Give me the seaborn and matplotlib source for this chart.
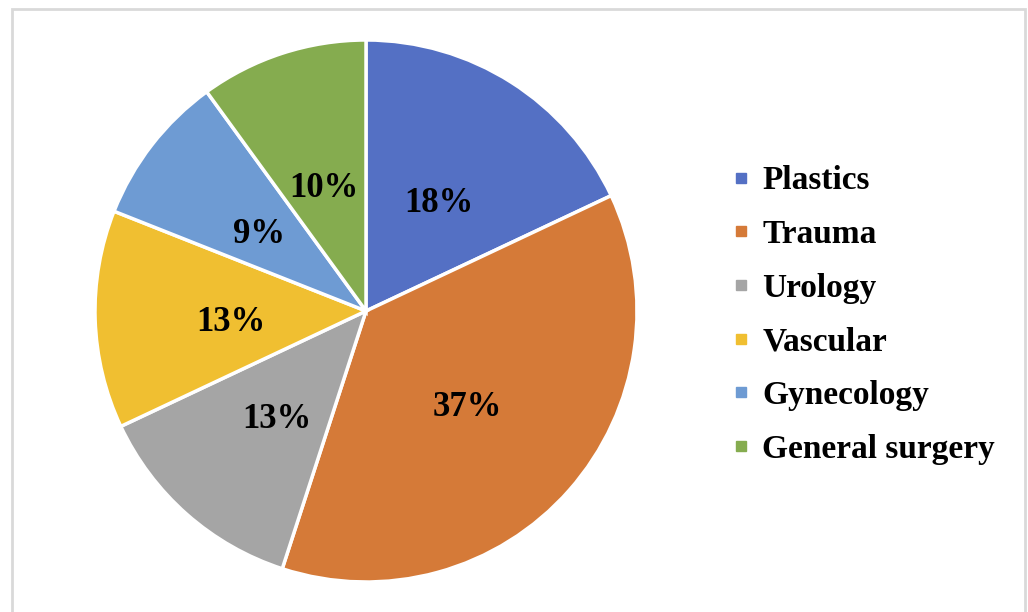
import matplotlib
matplotlib.use("Agg")
import matplotlib.pyplot as plt
import seaborn as sns
from matplotlib.lines import Line2D
from matplotlib.patches import Rectangle

# data
specialties = ["Plastics", "Trauma", "Urology", "Vascular", "Gynecology", "General surgery"]
shares = [18, 37, 13, 13, 9, 10]
colors = ["#5470C4", "#D57A38", "#A5A5A5", "#F0BF31", "#6E9BD3", "#85AC4F"]

sns.set_theme(style="white")
plt.rcParams["font.family"] = ["Liberation Serif", "DejaVu Serif"]
plt.rcParams["font.weight"] = "bold"
plt.rcParams["text.color"] = "black"

fig = plt.figure(figsize=(10.28, 6.12), dpi=100)
fig.patch.set_facecolor("white")

# light grey frame around the chart area
fig.patches.append(Rectangle((12 / 1028, -0.02), 1013 / 1028, 1 - 9 / 612 + 0.02,
                             transform=fig.transFigure, fill=False,
                             edgecolor="#D9D9D9", linewidth=2))

ax = fig.add_axes([95 / 1028, 30 / 612, 542 / 1028, 542 / 612])
wedges, texts, autotexts = ax.pie(
    shares, colors=colors, startangle=90, counterclock=False,
    autopct=lambda p: f"{p:.0f}%", pctdistance=0.5,
    wedgeprops=dict(edgecolor="white", linewidth=2.5),
    textprops=dict(fontsize=25, fontweight="bold", color="black"),
)
# labels sit a touch lower in the original
for t in autotexts:
    x, y = t.get_position()
    t.set_position((x, y - 0.025))

ax.set_xlim(-1, 1)
ax.set_ylim(-1, 1)
ax.set_aspect("equal")
ax.axis("off")

handles = [Line2D([0], [0], marker="s", linestyle="none", markersize=7.5,
                  markerfacecolor=c, markeredgecolor=c) for c in colors]
fig.legend(handles, specialties, loc="center left",
           bbox_to_anchor=(729 / 1028, 1 - 315 / 612), frameon=False,
           prop=dict(size=24, weight="bold"), labelspacing=0.68,
           handlelength=0.7, handletextpad=0.3, borderpad=0, borderaxespad=0)

fig.savefig("out.png", dpi=100)
